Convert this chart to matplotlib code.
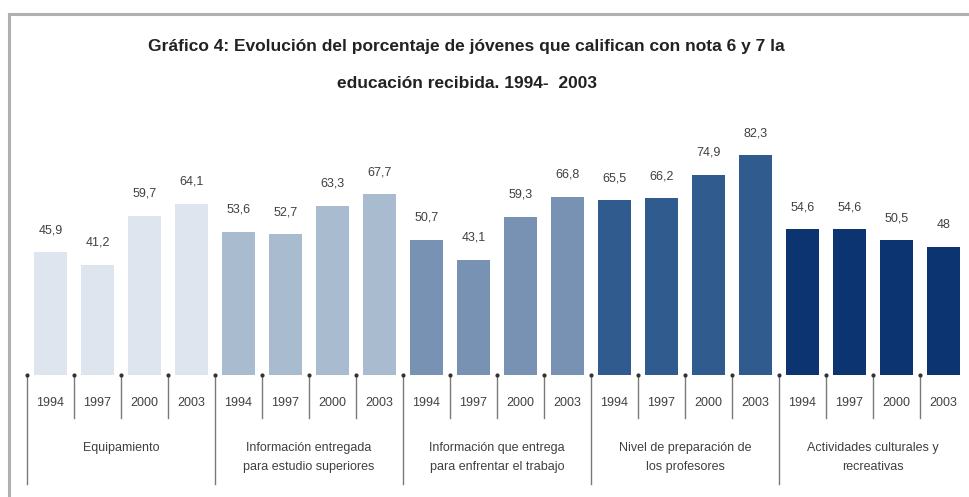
import matplotlib.pyplot as plt
from matplotlib.lines import Line2D

years = ["1994", "1997", "2000", "2003"]
groups = [
    "Equipamiento",
    "Información entregada\npara estudio superiores",
    "Información que entrega\npara enfrentar el trabajo",
    "Nivel de preparación de\nlos profesores",
    "Actividades culturales y\nrecreativas",
]
equipamiento = [45.9, 41.2, 59.7, 64.1]
info_estudios = [53.6, 52.7, 63.3, 67.7]
info_trabajo = [50.7, 43.1, 59.3, 66.8]
nivel_profesores = [65.5, 66.2, 74.9, 82.3]
actividades = [54.6, 54.6, 50.5, 48]
values = [equipamiento, info_estudios, info_trabajo, nivel_profesores, actividades]
labels = [
    ["45,9", "41,2", "59,7", "64,1"],
    ["53,6", "52,7", "63,3", "67,7"],
    ["50,7", "43,1", "59,3", "66,8"],
    ["65,5", "66,2", "74,9", "82,3"],
    ["54,6", "54,6", "50,5", "48"],
]
colors = ["#dfe5ee", "#a9bbcf", "#7892b4", "#2f5b8f", "#0b3470"]

W, H = 969, 497
fig = plt.figure(figsize=(W / 100, H / 100), dpi=100)

# outer frame (only top and left edges are visible)
fig.add_artist(Line2D([9 / W, 9 / W], [0, 1 - 14 / H], color="#b0b0b0", lw=2.2))
fig.add_artist(Line2D([9 / W, 1], [1 - 14 / H, 1 - 14 / H], color="#b0b0b0", lw=2.2))

x0, x1 = 27, 967
y_base, ppu = 375, 2.67
ymax = 100
ax = fig.add_axes([x0 / W, (H - y_base) / H, (x1 - x0) / W, ymax * ppu / H])
ax.set_xlim(0, 20)
ax.set_ylim(0, ymax)
ax.axis("off")

ax_h = ymax * ppu
def below(px):
    return -(px - y_base) / ax_h

txt = dict(fontsize=9, color="#404040", family="Liberation Sans")
trans = ax.get_xaxis_transform()
for g, (vals, labs, col) in enumerate(zip(values, labels, colors)):
    pos = [g * 4 + i + 0.5 for i in range(4)]
    ax.bar(pos, vals, width=0.7, color=col)
    for i, (p, v, lab) in enumerate(zip(pos, vals, labs)):
        ax.text(p, v + 6, lab, ha="center", va="bottom", **txt)
        ax.text(p, below(403), years[i], transform=trans, ha="center",
                va="center", **txt)
    ax.text(g * 4 + 2, below(442), groups[g], transform=trans, ha="center",
            va="top", linespacing=1.8, **txt)

# dividers under the bars
for k in range(20):
    bottom = below(484) if k % 4 == 0 else below(418)
    ax.plot([k, k], [0, bottom], transform=trans, color="#7a7a7a", lw=1.0,
            clip_on=False)
    ax.plot([k], [0], transform=trans, marker="o", ms=2, color="#333333",
            clip_on=False)

title_font = dict(ha="center", va="center", fontsize=12.5, fontweight="bold",
                  color="#222222", family=["DejaVu Sans Condensed", "Liberation Sans"])
fig.text(466 / W, 1 - 47 / H,
         "Gráfico 4: Evolución del porcentaje de jóvenes que califican con nota 6 y 7 la",
         **title_font)
fig.text(467 / W, 1 - 84 / H, "educación recibida. 1994-  2003", **title_font)

fig.savefig("out.png", dpi=100)
